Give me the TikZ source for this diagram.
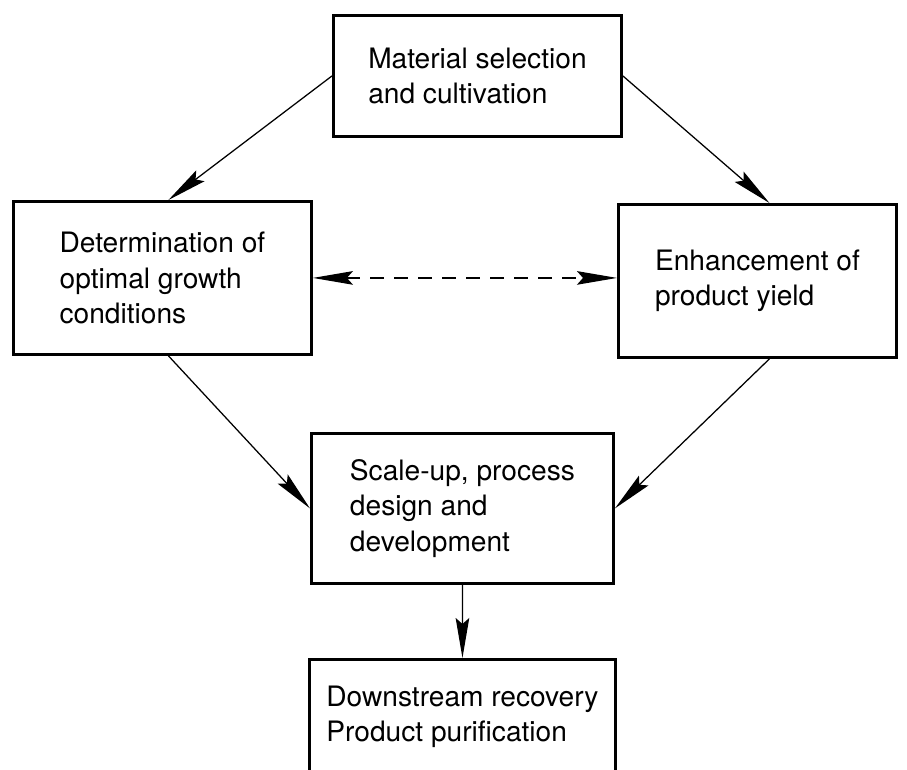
\documentclass[tikz,border=0pt]{standalone}
\usepackage{fontspec}
\setsansfont{TeX Gyre Heros}
\usetikzlibrary{arrows.meta}

\begin{document}
\begin{tikzpicture}[x=0.025cm, y=-0.025cm,
		>={Stealth[length=1cm, width=0.34cm, inset=0.15cm]},
		box/.style={draw, line width=2pt, align=left, anchor=north west, inner sep=0pt,
			font=\sffamily\fontsize{20}{25}\selectfont},
		arr/.style={->, line width=0.9pt}]
		\useasboundingbox (0,0) rectangle (907,769);
		\clip (0,0) rectangle (907,769);
		\node[box, minimum width=7.2cm, minimum height=3.025cm] (mat) at (332,14) {Material selection\\and cultivation};
		\node[box, minimum width=7.45cm, minimum height=3.825cm] (det) at (12,200) {Determination of\\optimal growth\\conditions};
		\node[box, minimum width=6.95cm, minimum height=3.825cm] (enh) at (617,203) {Enhancement of\\product yield};
		\node[box, minimum width=7.55cm, minimum height=3.75cm] (scale) at (310,432) {Scale-up, process\\design and\\development};
		\node[box, minimum width=7.65cm, minimum height=2.875cm] (down) at (308,658) {Downstream recovery\\Product purification};
		\draw [arr] (mat.west) -- ([xshift=0.15cm]det.north);
		\draw [arr] (mat.east) -- ([xshift=0.3cm]enh.north);
		\draw [arr] ([xshift=0.15cm]det.south) -- (scale.west);
		\draw [arr] ([xshift=0.3cm]enh.south) -- (scale.east);
		\draw [arr] (scale.south) -- (down.north);
		\draw [<->, line width=0.9pt, dash pattern=on 0.35cm off 0.25cm] (det.east) -- (det.east -| enh.west);
	\end{tikzpicture}
\end{document}
